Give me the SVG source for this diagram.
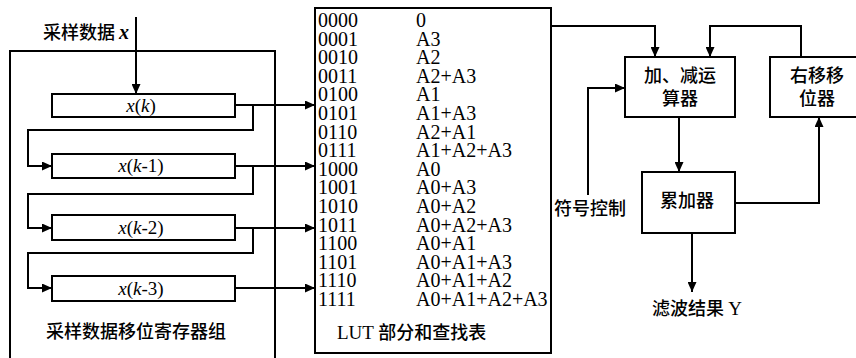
<svg xmlns="http://www.w3.org/2000/svg" width="856" height="358" viewBox="0 0 856 358">
<style>
.box{fill:#fff;stroke:#000;stroke-width:2}
.ln{fill:none;stroke:#000;stroke-width:2}
.cn{font-family:"Noto Sans CJK SC","Noto Sans",sans-serif;font-size:18px;fill:#000;font-weight:500}
.sr{font-family:"Liberation Serif","Times New Roman",serif;font-size:20px;fill:#000}
.reg{font-family:"Liberation Serif","Times New Roman",serif;font-size:19px;fill:#000;text-anchor:middle}
</style>
<defs>
<marker id="ah" markerUnits="userSpaceOnUse" markerWidth="10" markerHeight="9" refX="10" refY="4.5" orient="auto">
<path d="M0,0 L10,4.5 L0,9 z" fill="#000"/>
</marker>
</defs>
<rect width="856" height="358" fill="#fff"/>

<g id="register-group">
<path class="ln" d="M10,360 V51 H275 V360"/>
<text class="cn" x="46" y="338">采样数据移位寄存器组</text>
</g>
<g id="input-label"><text class="cn" x="43" y="39">采样数据 <tspan font-family="Liberation Serif,serif" font-style="italic" font-weight="bold" font-size="20">x</tspan></text></g>

<g id="reg-xk"><rect class="box" x="52" y="94" width="183" height="23"/><text class="reg" x="141" y="112"><tspan font-style="italic">x</tspan>(<tspan font-style="italic">k</tspan>)</text></g>
<g id="reg-xk1"><rect class="box" x="52" y="154" width="183" height="24"/><text class="reg" x="141" y="172"><tspan font-style="italic">x</tspan>(<tspan font-style="italic">k</tspan>-1)</text></g>
<g id="reg-xk2"><rect class="box" x="52" y="215" width="183" height="25"/><text class="reg" x="141" y="234"><tspan font-style="italic">x</tspan>(<tspan font-style="italic">k</tspan>-2)</text></g>
<g id="reg-xk3"><rect class="box" x="52" y="276" width="183" height="25"/><text class="reg" x="141" y="295"><tspan font-style="italic">x</tspan>(<tspan font-style="italic">k</tspan>-3)</text></g>

<g id="lut">
<rect class="box" x="315" y="8" width="236" height="345"/>
<g class="sr">
<text x="318" y="27">0000</text><text x="416" y="27">0</text>
<text x="318" y="45.6">0001</text><text x="416" y="45.6">A3</text>
<text x="318" y="64.2">0010</text><text x="416" y="64.2">A2</text>
<text x="318" y="82.8">0011</text><text x="416" y="82.8">A2+A3</text>
<text x="318" y="101.4">0100</text><text x="416" y="101.4">A1</text>
<text x="318" y="120">0101</text><text x="416" y="120">A1+A3</text>
<text x="318" y="138.6">0110</text><text x="416" y="138.6">A2+A1</text>
<text x="318" y="157.2">0111</text><text x="416" y="157.2">A1+A2+A3</text>
<text x="318" y="175.8">1000</text><text x="416" y="175.8">A0</text>
<text x="318" y="194.4">1001</text><text x="416" y="194.4">A0+A3</text>
<text x="318" y="213">1010</text><text x="416" y="213">A0+A2</text>
<text x="318" y="231.6">1011</text><text x="416" y="231.6">A0+A2+A3</text>
<text x="318" y="250.2">1100</text><text x="416" y="250.2">A0+A1</text>
<text x="318" y="268.8">1101</text><text x="416" y="268.8">A0+A1+A3</text>
<text x="318" y="287.4">1110</text><text x="416" y="287.4">A0+A1+A2</text>
<text x="318" y="306">1111</text><text x="416" y="306">A0+A1+A2+A3</text>
</g>
<text class="cn" x="337" y="339"><tspan font-family="Liberation Serif,serif" font-size="19" font-weight="normal">LUT </tspan>部分和查找表</text>
</g>

<g id="adder"><rect class="box" x="625" y="57" width="110" height="60"/>
<text class="cn" x="680" y="82" text-anchor="middle">加、减运</text>
<text class="cn" x="680" y="105" text-anchor="middle">算器</text></g>
<g id="shifter"><rect class="box" x="770" y="57" width="100" height="60"/>
<text class="cn" x="817" y="82" text-anchor="middle">右移移</text>
<text class="cn" x="817" y="105" text-anchor="middle">位器</text></g>
<g id="accumulator"><rect class="box" x="642" y="172" width="93" height="61"/>
<text class="cn" x="687" y="207" text-anchor="middle">累加器</text></g>
<g id="sign-label"><text class="cn" x="554" y="215">符号控制</text></g>
<g id="output-label"><text class="cn" x="697" y="315" text-anchor="middle">滤波结果 <tspan font-family="Liberation Serif,serif" font-weight="normal" font-size="19">Y</tspan></text></g>

<g id="connectors">
<path class="ln" d="M136,17 V94" marker-end="url(#ah)"/>
<path class="ln" d="M235,105 H315" marker-end="url(#ah)"/>
<path class="ln" d="M253,105 V130 H28 V166 H52" marker-end="url(#ah)"/>
<path class="ln" d="M235,166 H315" marker-end="url(#ah)"/>
<path class="ln" d="M253,166 V194 H28 V228 H52" marker-end="url(#ah)"/>
<path class="ln" d="M235,228 H315" marker-end="url(#ah)"/>
<path class="ln" d="M253,228 V253 H28 V288 H52" marker-end="url(#ah)"/>
<path class="ln" d="M235,288 H315" marker-end="url(#ah)"/>
<path class="ln" d="M551,26 H655 V57" marker-end="url(#ah)"/>
<path class="ln" d="M801,57 V26 H710 V57" marker-end="url(#ah)"/>
<path class="ln" d="M588,195 V88 H625" marker-end="url(#ah)"/>
<path class="ln" d="M679,117 V172" marker-end="url(#ah)"/>
<path class="ln" d="M735,203 H819 V117" marker-end="url(#ah)"/>
<path class="ln" d="M692,233 V292" marker-end="url(#ah)"/>
</g>
</svg>
